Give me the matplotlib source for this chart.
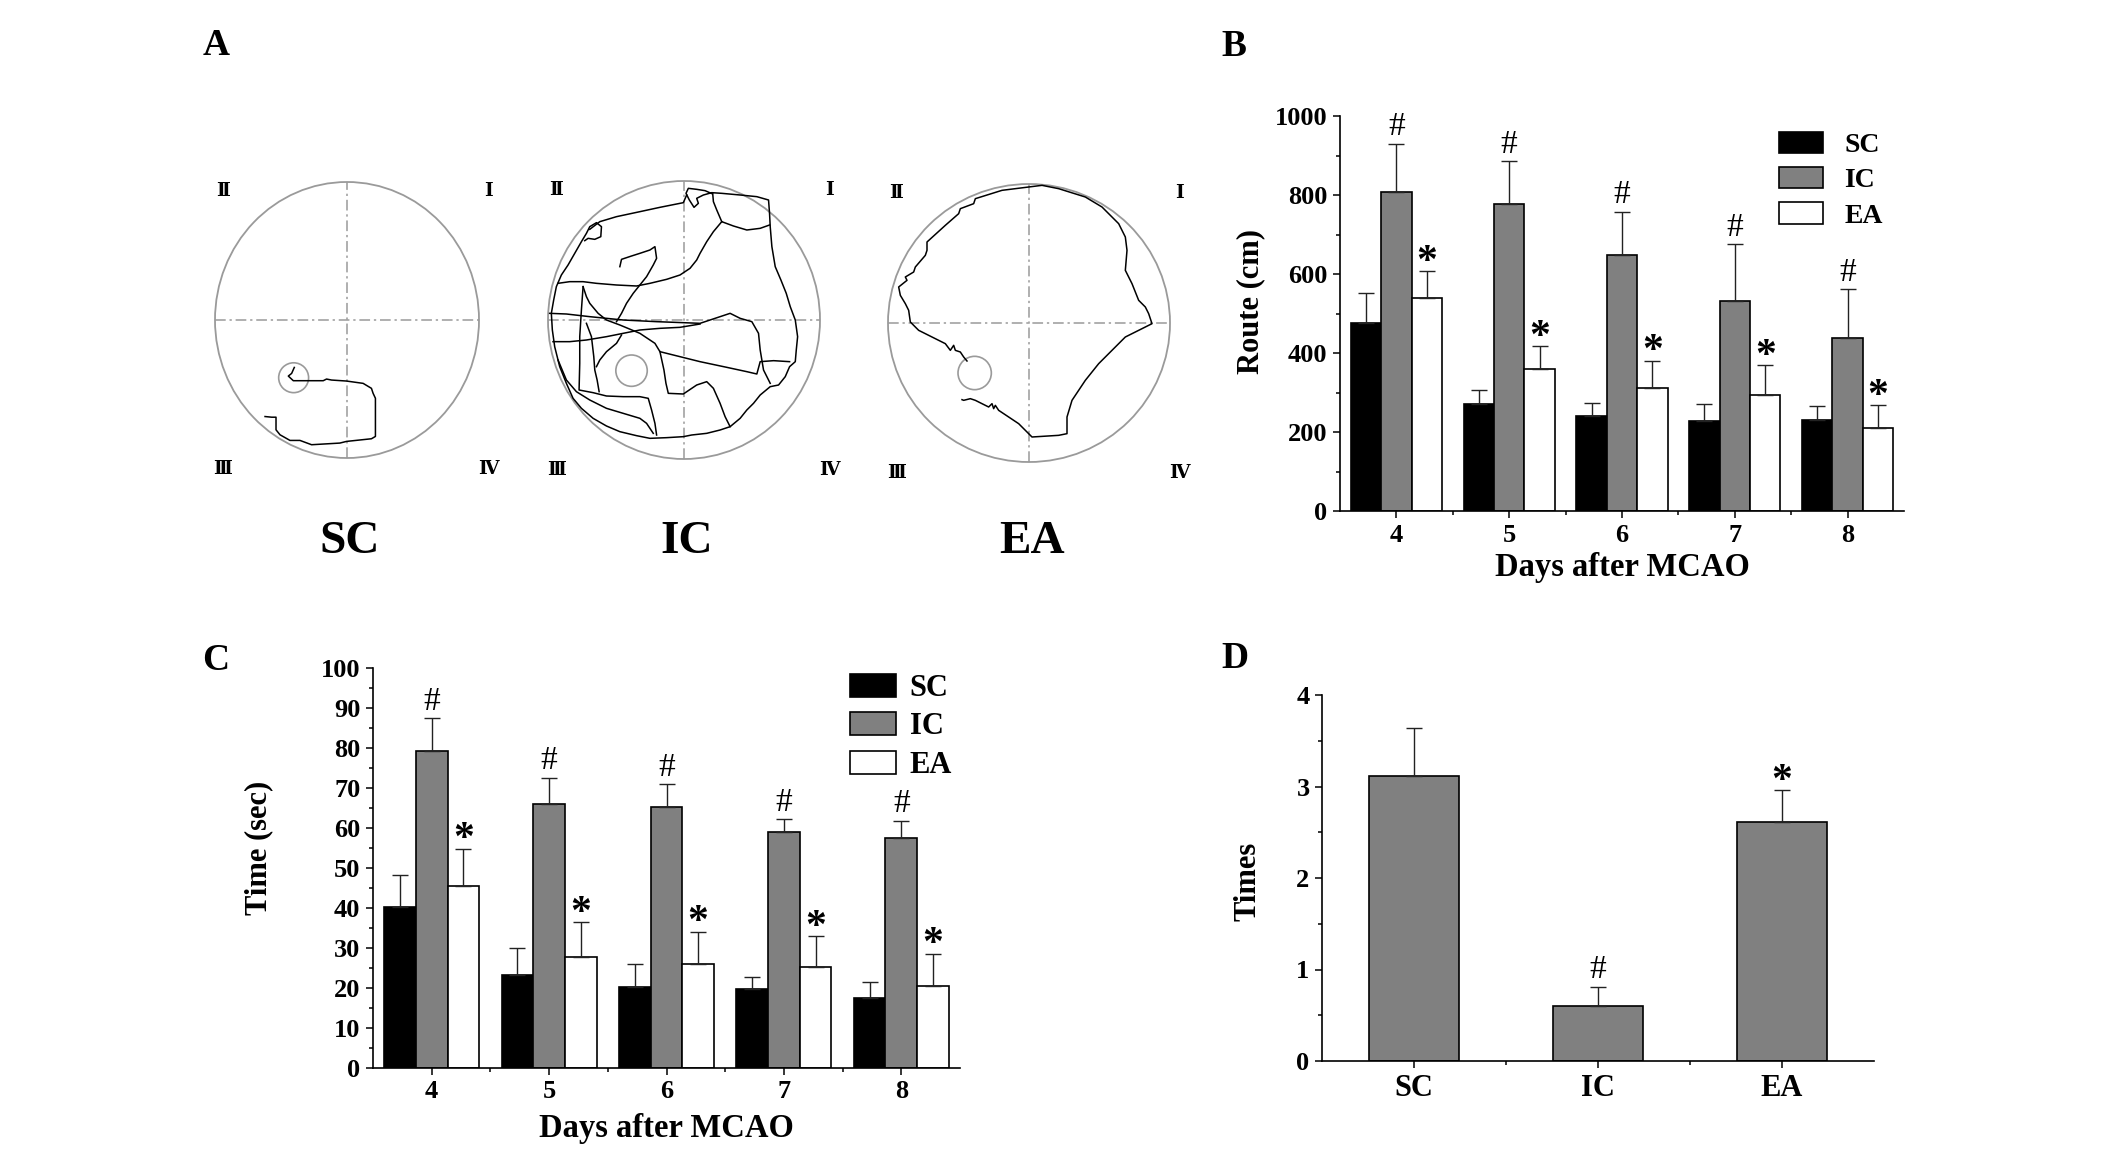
import numpy as np
import matplotlib
matplotlib.use("Agg")
import matplotlib.pyplot as plt
from matplotlib.patches import Ellipse
from matplotlib.ticker import MultipleLocator, FixedLocator

plt.rcParams['font.family'] = ['Liberation Serif', 'DejaVu Serif']
plt.rcParams['font.weight'] = 'bold'

# ---------------- data ----------------
groups = ['SC', 'IC', 'EA']
days = [4, 5, 6, 7, 8]

# B: swimming route (cm)
route_sc = [475, 270, 241, 228, 230]
route_ic = [808, 776, 647, 532, 439]
route_ea = [539, 359, 312, 294, 211]
route_sc_err = [78, 36, 32, 44, 37]
route_ic_err = [122, 110, 111, 144, 123]
route_ea_err = [68, 58, 69, 75, 57]

# C: escape latency (sec)
time_sc = [40.3, 23.3, 20.3, 19.7, 17.4]
time_ic = [79.2, 66.0, 65.2, 58.9, 57.6]
time_ea = [45.6, 27.8, 26.1, 25.2, 20.5]
time_sc_err = [8.0, 6.7, 5.7, 3.1, 4.1]
time_ic_err = [8.2, 6.6, 5.8, 3.3, 4.2]
time_ea_err = [9.2, 8.6, 7.9, 7.7, 8.0]

# D: platform crossing times
cross_vals = [3.11, 0.60, 2.61]
cross_err = [0.53, 0.21, 0.35]
cross_marks = ['', '#', '*']

# A: swim tracks, traced in arena pixel units (x right, y down)
sc_arena = dict(center=(441.5, 449), rx=397, ry=416, platform=(281, 623, 45))
sc_tracks = [
    [(283, 592), (275, 610), (265, 618), (280, 632), (370, 632), (380, 627), (395, 630),
     (440, 633), (490, 640), (515, 655), (520, 670), (527, 685), (527, 800), (515, 807),
     (440, 815), (420, 820), (335, 825), (300, 812), (270, 812), (240, 795), (228, 780),
     (228, 742), (215, 742), (195, 740)],
]

ic_arena = dict(center=(432, 450), rx=407, ry=417, platform=(275, 602, 47))
ic_tracks = [
    [(545, 155), (530, 120), (520, 95), (518, 72), (495, 62), (470, 58), (445, 55), (438, 70),
     (448, 90), (462, 112), (475, 100), (470, 85), (490, 75), (515, 68), (545, 70), (600, 75),
     (650, 80), (685, 90), (688, 130), (690, 170), (695, 230), (705, 290), (722, 330),
     (738, 370), (750, 410), (765, 450), (772, 500), (768, 540), (765, 575), (748, 590),
     (735, 620), (715, 645), (690, 650), (660, 675), (640, 700), (620, 720), (600, 745),
     (570, 770), (540, 780), (500, 790), (455, 795), (430, 800), (380, 803), (330, 805),
     (290, 797), (240, 785), (200, 768), (160, 745), (125, 715), (100, 685), (80, 640),
     (60, 590), (45, 530), (38, 480), (35, 430), (42, 390), (50, 350), (65, 315), (85, 285),
     (105, 250), (125, 215), (140, 190), (150, 170), (170, 158), (185, 170), (183, 200),
     (165, 208), (145, 205), (135, 212)],
    [(545, 155), (520, 185), (500, 215), (480, 250), (470, 270), (450, 295), (420, 315),
     (380, 328), (330, 340), (290, 348), (230, 345), (170, 340), (130, 335), (90, 335), (55, 340)],
    [(150, 178), (180, 155), (230, 140), (300, 125), (360, 112), (410, 102), (430, 98), (440, 75)],
    [(545, 155), (580, 168), (620, 180), (660, 175), (688, 165)],
    [(240, 290), (245, 268), (275, 258), (300, 250), (330, 240), (345, 230), (350, 265),
     (340, 285), (320, 320), (300, 345), (280, 370), (260, 400), (245, 430), (230, 455)],
    [(130, 350), (140, 380), (150, 400), (175, 430), (200, 450), (240, 465), (300, 490),
     (345, 520), (360, 545), (420, 560), (480, 575), (560, 592), (620, 605), (650, 612),
     (660, 575), (700, 572), (748, 575)],
    [(30, 430), (80, 432), (150, 440), (250, 450), (350, 455), (430, 458), (480, 460),
     (540, 440), (570, 430), (600, 445), (635, 455), (655, 490), (660, 540), (670, 600), (690, 640)],
    [(40, 515), (90, 515), (140, 510), (200, 500), (250, 490), (300, 480), (360, 475),
     (420, 472), (480, 462)],
    [(130, 350), (125, 420), (120, 500), (120, 580), (118, 660), (160, 668), (200, 678),
     (250, 680), (300, 680), (325, 685), (335, 720), (345, 760), (350, 795)],
    [(140, 460), (155, 500), (162, 560), (165, 600), (172, 630), (178, 665)],
    [(245, 495), (230, 520), (200, 545), (180, 570), (170, 590)],
    [(360, 545), (372, 600), (378, 640), (385, 670), (430, 672), (470, 645), (500, 635),
     (520, 655), (540, 700), (555, 740), (570, 770)],
    [(55, 570), (80, 630), (110, 665), (150, 690), (200, 715), (250, 730), (300, 745),
     (320, 760), (340, 790)],
]

ea_arena = dict(center=(431, 458), rx=423, ry=417, platform=(268, 608, 50))
ea_tracks = [
    [(245, 572), (235, 560), (225, 545), (210, 540), (205, 525), (195, 540), (180, 520),
     (100, 480), (75, 455), (70, 420), (60, 400), (45, 375), (40, 350), (65, 330), (60, 320),
     (85, 305), (90, 290), (120, 255), (125, 240), (125, 215), (180, 165), (220, 130),
     (225, 115), (265, 100), (270, 85), (350, 60), (430, 50), (470, 45), (520, 55), (600, 80),
     (650, 110), (700, 160), (720, 200), (725, 240), (720, 300), (740, 340), (760, 390),
     (770, 400), (780, 410), (790, 430), (800, 460), (760, 480), (720, 500), (690, 530),
     (640, 580), (600, 630), (560, 690), (545, 740), (545, 790), (520, 795), (440, 800),
     (430, 790), (400, 760), (370, 740), (340, 720), (330, 705), (325, 715), (320, 700),
     (310, 710), (270, 690), (255, 685), (235, 690), (230, 688)],
]

# ---------------- figure ----------------
W, H = 2126, 1161
fig = plt.figure(figsize=(W / 100, H / 100), dpi=100)


def px_axes(l, t, r, b):
    return fig.add_axes([l / W, 1 - b / H, (r - l) / W, (b - t) / H])


GRAY_LINE = '#9a9a9a'


def draw_arena(cx, cy, rx, ry, arena, tracks, name):
    ax = px_axes(cx - 1.3 * rx, cy - 1.3 * ry, cx + 1.3 * rx, cy + 1.3 * ry)
    ax.set_xlim(-1.3, 1.3)
    ax.set_ylim(-1.3, 1.3)
    ax.axis('off')
    ax.add_patch(Ellipse((0, 0), 2, 2, fill=False, ec=GRAY_LINE, lw=1.3))
    ax.plot([0, 0], [-1, 1], color=GRAY_LINE, lw=1.1, dashes=[7, 2.5, 1.5, 2.5])
    ax.plot([-1, 1], [0, 0], color=GRAY_LINE, lw=1.1, dashes=[7, 2.5, 1.5, 2.5])
    x0, y0 = arena['center']
    arx, ary = arena['rx'], arena['ry']
    px, py, pr = arena['platform']
    ax.add_patch(Ellipse(((px - x0) / arx, (y0 - py) / ary), 2 * pr / arx, 2 * pr / ary,
                         fill=False, ec=GRAY_LINE, lw=1.2))
    for tr in tracks:
        t = np.array(tr, dtype=float)
        ax.plot((t[:, 0] - x0) / arx, (y0 - t[:, 1]) / ary, color='black', lw=1.1)
    fam = ['Liberation Serif', 'DejaVu Serif', 'DejaVu Sans']
    for s, (u, v) in zip(['Ⅱ', 'Ⅰ', 'Ⅲ', 'Ⅳ'],
                         [(-0.94, 0.93), (1.07, 0.93), (-0.94, -1.08), (1.07, -1.08)]):
        ax.text(u, v, s, ha='center', va='center', fontsize=13.5, fontweight='bold', family=fam)
    fig.text((cx + 3) / W, 1 - 553 / H, name, ha='center', va='baseline',
             fontsize=34, fontweight='bold')


draw_arena(347, 320, 132, 138, sc_arena, sc_tracks, 'SC')
draw_arena(684, 320, 136, 139, ic_arena, ic_tracks, 'IC')
draw_arena(1029, 323, 141, 139, ea_arena, ea_tracks, 'EA')


def style_axes(ax, xsize=19, ysize=19):
    for s in ['top', 'right']:
        ax.spines[s].set_visible(False)
    for s in ['left', 'bottom']:
        ax.spines[s].set_linewidth(1.2)
    ax.tick_params(which='major', direction='out', length=5, width=1.1, pad=4)
    ax.tick_params(axis='x', which='major', labelsize=xsize)
    ax.tick_params(axis='y', which='major', labelsize=ysize)
    ax.tick_params(which='minor', direction='out', length=3, width=1.1)
    for lab in ax.get_xticklabels() + ax.get_yticklabels():
        lab.set_fontweight('bold')


def grouped(ax, sc, ic, ea, sce, ice, eae, ymax, ymajor, yminor, ylabel):
    x = np.array(days, dtype=float)
    w = 0.27
    bars = []
    for off, vals, errs, col in [(-w, sc, sce, 'black'), (0, ic, ice, '#808080'),
                                  (w, ea, eae, 'white')]:
        b = ax.bar(x + off, vals, w, color=col, edgecolor='black', linewidth=1.2, zorder=2)
        bars.append(b)
        ax.errorbar(x + off, vals, yerr=[np.zeros(len(vals)), errs], fmt='none',
                    ecolor='#222222', elinewidth=1.0, capsize=6, capthick=1.0, zorder=3)
    for xi, v, e in zip(x, ic, ice):
        ax.annotate('#', (xi, v + e), xytext=(0, 1), textcoords='offset points',
                    ha='center', va='bottom', fontsize=24, fontweight='normal')
    for xi, v, e in zip(x + w, ea, eae):
        ax.annotate('*', (xi, v + e), xytext=(0, -1), textcoords='offset points',
                    ha='center', va='baseline', fontsize=30, fontweight='bold')
    ax.set_xlim(3.5, 8.5)
    ax.set_ylim(0, ymax)
    ax.set_xticks(days)
    ax.xaxis.set_minor_locator(FixedLocator([4.5, 5.5, 6.5, 7.5]))
    ax.yaxis.set_major_locator(MultipleLocator(ymajor))
    ax.yaxis.set_minor_locator(MultipleLocator(yminor))
    style_axes(ax)
    ax.set_xlabel('Days after MCAO', fontsize=23.5, fontweight='bold')
    ax.set_ylabel(ylabel, fontsize=22, fontweight='bold')
    return bars


# ---- B ----
bl, bt, br, bb = 1340, 116, 1904, 511
axB = px_axes(bl, bt, br, bb)
barsB = grouped(axB, route_sc, route_ic, route_ea, route_sc_err, route_ic_err, route_ea_err,
                1000, 200, 100, 'Route (cm)')
axB.xaxis.set_label_coords(0.5, -0.105)
axB.yaxis.set_label_coords((1265 - bl) / (br - bl), 0.53)
axB.legend(barsB, groups, loc='upper left', bbox_to_anchor=(1779 / W, 1 - 132 / H),
           bbox_transform=fig.transFigure, frameon=False, fontsize=20,
           handlelength=1.6, handleheight=0.8, labelspacing=0.32, handletextpad=0.75,
           borderpad=0, borderaxespad=0)

# ---- C ----
cl, ct, cr, cb = 373, 668, 960, 1068
axC = px_axes(cl, ct, cr, cb)
barsC = grouped(axC, time_sc, time_ic, time_ea, time_sc_err, time_ic_err, time_ea_err,
                100, 10, 5, 'Time (sec)')
axC.xaxis.set_label_coords(0.5, -0.113)
axC.yaxis.set_label_coords((273 - cl) / (cr - cl), 0.55)
axC.legend(barsC, groups, loc='upper left', bbox_to_anchor=(850 / W, 1 - 674 / H),
           bbox_transform=fig.transFigure, frameon=False, fontsize=22,
           handlelength=1.5, handleheight=0.78, labelspacing=0.3, handletextpad=0.45,
           borderpad=0, borderaxespad=0)

# ---- D ----
dl, dt, dr, db = 1322, 695, 1874, 1061
axD = px_axes(dl, dt, dr, db)
xd = np.arange(len(groups))
axD.bar(xd, cross_vals, 0.49, color='#808080', edgecolor='black', linewidth=1.2, zorder=2)
axD.errorbar(xd, cross_vals, yerr=[np.zeros(3), cross_err], fmt='none', ecolor='#222222',
             elinewidth=1.0, capsize=6, capthick=1.0, zorder=3)
for xi, v, e, m in zip(xd, cross_vals, cross_err, cross_marks):
    if m == '#':
        axD.annotate(m, (xi, v + e), xytext=(0, 1), textcoords='offset points',
                     ha='center', va='bottom', fontsize=24, fontweight='normal')
    elif m == '*':
        axD.annotate(m, (xi, v + e), xytext=(0, -1), textcoords='offset points',
                     ha='center', va='baseline', fontsize=30, fontweight='bold')
axD.set_xlim(-0.5, 2.5)
axD.set_ylim(0, 4)
axD.set_xticks(xd)
axD.set_xticklabels(groups)
axD.xaxis.set_minor_locator(FixedLocator([0.5, 1.5]))
axD.yaxis.set_major_locator(MultipleLocator(1))
axD.yaxis.set_minor_locator(MultipleLocator(0.5))
style_axes(axD, xsize=22, ysize=19)
axD.set_ylabel('Times', fontsize=22, fontweight='bold')
axD.yaxis.set_label_coords((1262 - dl) / (dr - dl), 0.49)

# panel letters
for letter, (lx, ly) in zip('ABCD', [(203, 55), (1221, 56), (202, 670), (1221, 668)]):
    fig.text(lx / W, 1 - ly / H, letter, ha='left', va='baseline', fontsize=27,
             fontweight='bold')

fig.savefig('out.png', dpi=100)
